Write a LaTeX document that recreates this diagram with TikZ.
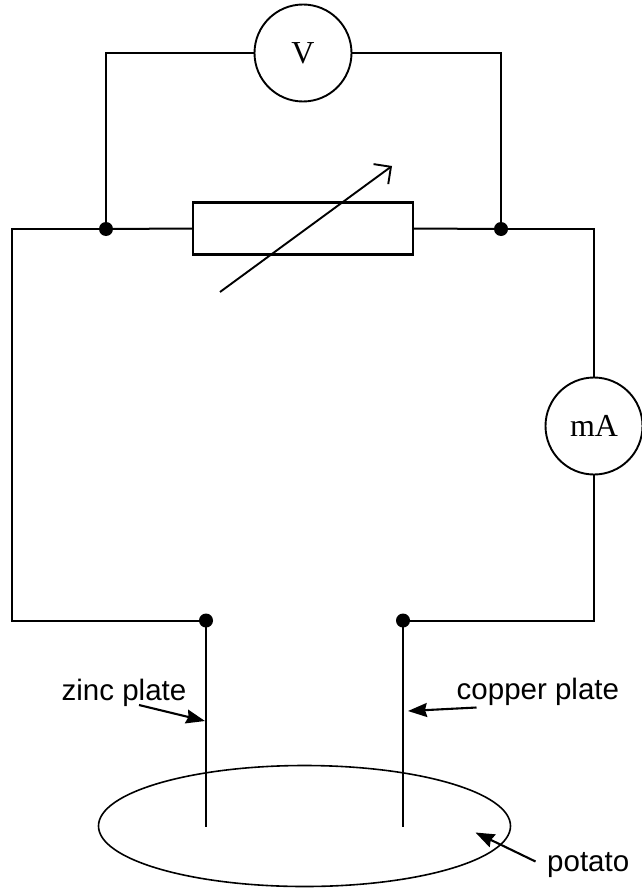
\documentclass[tikz,border=0pt]{standalone}
\usepackage{fontspec}
\setmainfont{Liberation Serif}
\newfontfamily\lsans{Liberation Sans}
\usetikzlibrary{arrows.meta,shapes.geometric}
\begin{document}
\begin{tikzpicture}[x=1pt,y=-1pt,
  wire/.style={line width=2pt, line join=miter},
  thin wire/.style={line width=1.6pt},
  meter/.style={circle, draw, line width=1.9pt, minimum size=97pt, inner sep=0pt,
    font=\fontsize{32}{32}\selectfont},
  resbox/.style={rectangle, draw, line width=2.1pt, minimum width=220pt, minimum height=52pt, inner sep=0pt},
  lbl/.style={font=\lsans\fontsize{29.5}{29.5}\selectfont, inner sep=0pt},
  pointer/.style={line width=2.1pt, -{Stealth[length=19pt,width=14pt,inset=2pt]}},
  junction/.style={fill=black}]
\useasboundingbox (0,0) rectangle (641,888);
% components
\node[meter] (V) at (303,53) {V};
\node[meter] (A) at (594,426) {mA};
\node[resbox] (R) at (303,228.5) {};
\node[ellipse, draw, line width=1.6pt, minimum width=412pt, minimum height=121pt, inner sep=0pt] (potato) at (304.5,826) {};
% coordinates
\coordinate (jl) at (106,229);
\coordinate (jr) at (501,229);
\coordinate (tl) at (12,229);
\coordinate (pl) at (206,620.5);
\coordinate (pr) at (403,620.5);
\coordinate (plb) at (206,827);
\coordinate (prb) at (403,827);
% wiring
\draw[wire] (V.west) -| (jl);
\draw[wire] (V.east) -| (jr);
\draw[wire] (jl) -- (R.west);
\draw[wire] (R.east) -- (jr);
\draw[wire] (jl) -- (tl) |- (pl);
\draw[wire] (jr) -| (A.north);
\draw[wire] (A.south) |- (pr);
\draw[thin wire] (pl) -- (plb);
\draw[thin wire] (pr) -- (prb);
\fill[junction] (jl) circle (7pt);
\fill[junction] (jr) circle (7pt);
\fill[junction] (pl) circle (7pt);
\fill[junction] (pr) circle (7pt);
% variable resistor arrow
\coordinate (ra1) at (220,292);
\coordinate (ra2) at (392,166);
\draw[line width=1.9pt, -{Straight Barb[length=12.4pt,width=24.8pt]}] (ra1) -- (ra2);
% labels
\node[lbl, anchor=base west] (zinc) at (61.5,700) {zinc plate};
\node[lbl, anchor=base west] (copper) at (456.5,699.5) {copper plate};
\node[lbl, anchor=base west] (pot) at (547,871) {potato};
\coordinate (zs) at (139,705);
\coordinate (zt) at (205,721);
\coordinate (cs) at (476.5,707.5);
\coordinate (ct) at (408,711);
\coordinate (ps) at (535.5,861.5);
\coordinate (pt) at (475.5,832.5);
\draw[pointer] (zs) -- (zt);
\draw[pointer] (cs) -- (ct);
\draw[pointer] (ps) -- (pt);
\end{tikzpicture}
\end{document}
